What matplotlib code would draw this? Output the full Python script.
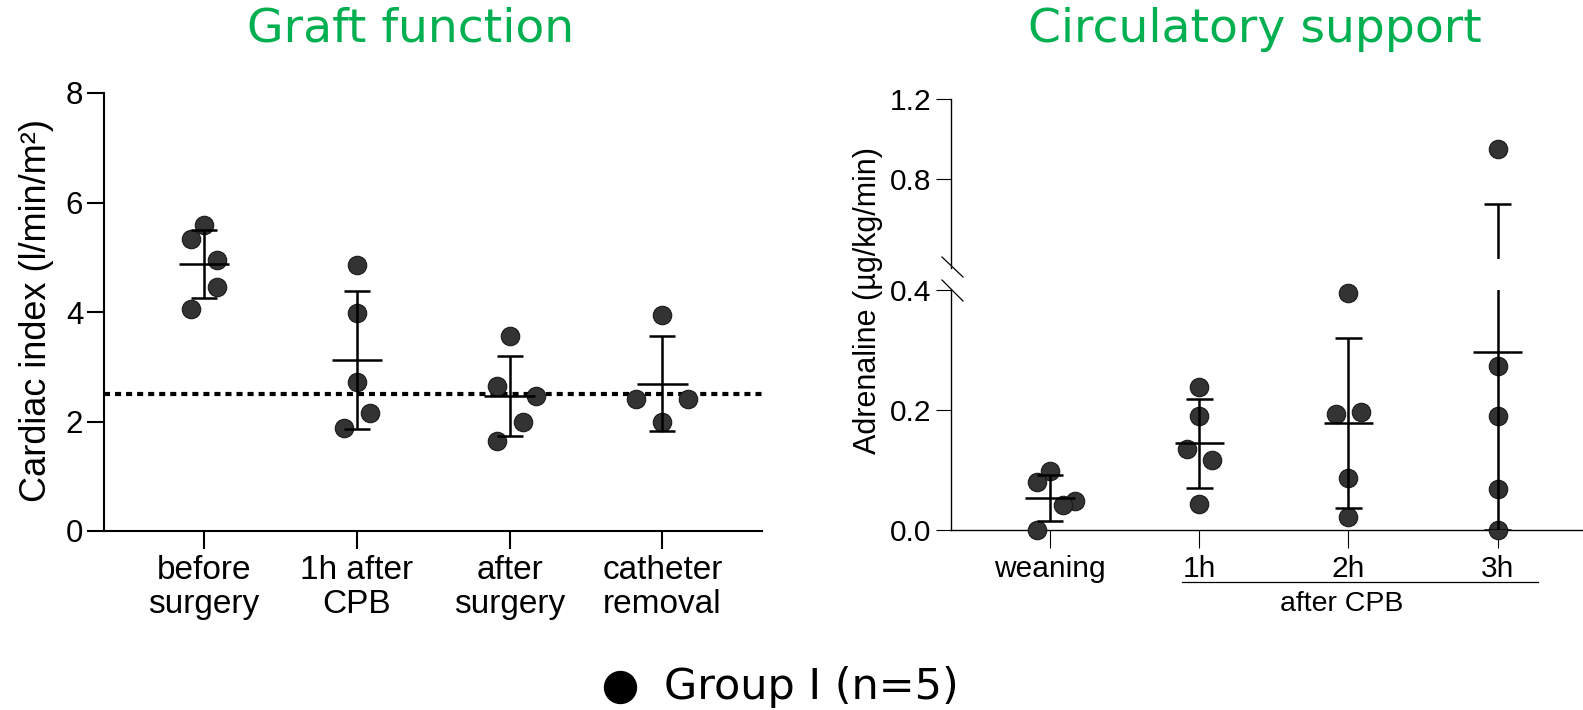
import numpy as np
import matplotlib
matplotlib.use('Agg')
import matplotlib.pyplot as plt
from matplotlib.lines import Line2D

plt.rcParams['font.family'] = ['Liberation Sans', 'DejaVu Sans']

# ---- data: cardiac index (l/min/m2) ----
ci_labels = ['before\nsurgery', '1h after\nCPB', 'after\nsurgery', 'catheter\nremoval']
ci_before = [5.59, 5.33, 4.95, 4.46, 4.06]
ci_1h = [4.85, 3.99, 2.72, 2.15, 1.89]
ci_after = [3.57, 2.65, 2.46, 1.99, 1.65]
ci_removal = [3.95, 2.41, 2.41, 1.99]
ci_threshold = 2.5
ci_ticks = [0, 2, 4, 6, 8]

# ---- data: adrenaline (ug/kg/min) ----
adr_labels = ['weaning', '1h', '2h', '3h']
adr_weaning = [0.099, 0.080, 0.048, 0.041, 0.0]
adr_1h = [0.238, 0.190, 0.135, 0.117, 0.043]
adr_2h = [0.395, 0.196, 0.193, 0.086, 0.021]
adr_3h = [0.951, 0.273, 0.190, 0.068, 0.0]
adr_ticks_low = [0.0, 0.2, 0.4]
adr_ticks_high = [0.8, 1.2]

# horizontal spread of overlapping dots, in steps
ci_spread = [[0, -1, 1, 1, -1], [0, 0, 0, 1, -1], [0, -1, 2, 1, -1], [0, -2, 2, 0]]
adr_spread = [[0, -1, 2, 1, -1], [0, 0, -1, 1, 0], [0, 1, -1, 0, 0], [0, 0, 0, 0, 0]]

W, H = 1583, 710
GREEN = '#00B050'
DOT = '#333333'


def px_rect(x0, y_top, x1, y_bot):
    """Axes rectangle from pixel coordinates (origin top-left)."""
    return [x0 / W, 1 - y_bot / H, (x1 - x0) / W, (y_bot - y_top) / H]


def draw_group(axes_list, xc, vals, spread, step=0.085, mean_w=0.165,
               cap_w=0.085, lw=1.8, ms=13.3):
    vals = np.asarray(vals, dtype=float)
    m = vals.mean()
    sd = vals.std(ddof=1)
    xs = xc + np.asarray(spread) * step
    for ax in axes_list:
        lo, hi = ax.get_ylim()
        sel = (vals >= lo - 1e-9) & (vals <= hi + 0.03)
        ax.plot(xs[sel], vals[sel], 'o', ms=ms, mfc=DOT, mec='#1a1a1a',
                mew=0.8, clip_on=False, zorder=3)
        bottom = max(m - sd, 0)
        ax.plot([xc, xc], [bottom, m + sd], color='k', lw=lw, zorder=4,
                solid_capstyle='butt')
        for yv in (bottom, m + sd):
            ax.plot([xc - cap_w, xc + cap_w], [yv, yv], color='k', lw=lw,
                    zorder=4, solid_capstyle='butt')
        ax.plot([xc - mean_w, xc + mean_w], [m, m], color='k', lw=lw,
                zorder=4, solid_capstyle='butt')


fig = plt.figure(figsize=(W / 100, H / 100), dpi=100)

# ---------------- left panel: graft function ----------------
ax1 = fig.add_axes(px_rect(104, 93, 762, 531))
ax1.set_xlim(0.344, 4.652)
ax1.set_ylim(0, 8)
ax1.set_yticks(ci_ticks)
ax1.set_xticks(range(1, 5))
ax1.set_xticklabels(ci_labels, fontsize=24, linespacing=1.15)
ax1.tick_params(axis='y', labelsize=22.5, length=12, width=1.5, pad=3)
ax1.tick_params(axis='x', length=13, width=1.5, pad=4)
for s in ('top', 'right'):
    ax1.spines[s].set_visible(False)
for s in ('left', 'bottom'):
    ax1.spines[s].set_linewidth(1.5)

ax1.axhline(ci_threshold, color='k', lw=3.0, ls=(0, (1.45, 1.2)), zorder=2)
for i, vals in enumerate([ci_before, ci_1h, ci_after, ci_removal]):
    draw_group([ax1], i + 1, vals, ci_spread[i], step=0.085, mean_w=0.165,
               cap_w=0.085)

fig.text(37 / W, 1 - 310 / H, 'Cardiac index (l/min/m²)', rotation=90,
         ha='center', va='center', fontsize=26)

# ---------------- right panel: circulatory support ----------------
ax_lo = fig.add_axes(px_rect(951, 290, 1583, 530))
ax_hi = fig.add_axes(px_rect(951, 99, 1583, 259))
for ax in (ax_lo, ax_hi):
    ax.set_xlim(0.3365, 4.572)
    ax.spines['top'].set_visible(False)
    ax.spines['right'].set_visible(False)
    ax.spines['left'].set_linewidth(1.0)
    ax.patch.set_alpha(0)
ax_lo.set_ylim(0, 0.4)
ax_hi.set_ylim(0.4, 1.2)
ax_lo.set_yticks(adr_ticks_low)
ax_lo.set_yticklabels([f'{v:.1f}' for v in adr_ticks_low])
ax_hi.set_yticks(adr_ticks_high)
ax_hi.set_yticklabels([f'{v:.1f}' for v in adr_ticks_high])
ax_lo.spines['bottom'].set_linewidth(1.0)
ax_hi.spines['bottom'].set_visible(False)
ax_hi.spines['left'].set_bounds(0.355, 1.2)
ax_hi.set_xticks([])
ax_lo.set_xticks(range(1, 5))
ax_lo.set_xticklabels(adr_labels, fontsize=21.5)
for ax in (ax_lo, ax_hi):
    ax.tick_params(axis='y', labelsize=21.5, length=11, width=0.8, pad=3)
ax_lo.tick_params(axis='x', length=13, width=0.8, pad=5)

for i, vals in enumerate([adr_weaning, adr_1h, adr_2h, adr_3h]):
    draw_group([ax_lo, ax_hi], i + 1, vals, adr_spread[i], step=0.084,
               mean_w=0.165, cap_w=0.09)

# axis break marks
fig.add_artist(Line2D([942 / W, 963 / W], [1 - 257 / H, 1 - 277 / H],
                      transform=fig.transFigure, color='k', lw=0.9))
fig.add_artist(Line2D([942 / W, 963 / W], [1 - 280 / H, 1 - 301 / H],
                      transform=fig.transFigure, color='k', lw=0.9))

# "after CPB" grouping line
fig.add_artist(Line2D([1182 / W, 1538 / W], [1 - 582 / H, 1 - 582 / H],
                      transform=fig.transFigure, color='k', lw=0.9))
fig.text(1342 / W, 1 - 604 / H, 'after CPB', ha='center', va='center',
         fontsize=20.5)

fig.text(868 / W, 1 - 300 / H, 'Adrenaline (µg/kg/min)', rotation=90,
         ha='center', va='center', fontsize=22)

# titles
fig.text(411 / W, 1 - 29 / H, 'Graft function', ha='center', va='center',
         color=GREEN, fontsize=34, family='DejaVu Sans')
fig.text(1255 / W, 1 - 29 / H, 'Circulatory support', ha='center',
         va='center', color=GREEN, fontsize=34, family='DejaVu Sans')

# legend
fig.add_artist(Line2D([620 / W], [1 - 687 / H], transform=fig.transFigure,
                      marker='o', ms=23, mfc='k', mec='k', ls='none'))
fig.text(664 / W, 1 - 687 / H, 'Group I (n=5)', ha='left', va='center',
         fontsize=31, family='DejaVu Sans')

fig.savefig('out.png', dpi=100)
